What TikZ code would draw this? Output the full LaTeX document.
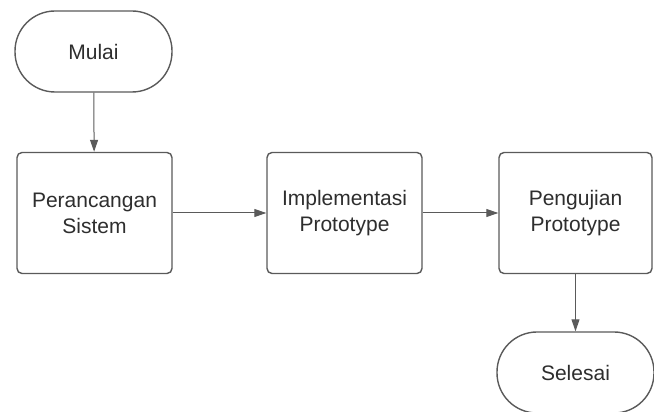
\documentclass[tikz,border=0pt]{standalone}
\usepackage{fontspec}
\setmainfont{Liberation Sans}
\usetikzlibrary{arrows.meta}
\definecolor{linec}{HTML}{5A5A5A}
\definecolor{textc}{HTML}{2E2E2E}
\tikzset{
  term/.style={draw=linec, line width=1.4pt, rounded corners=40pt, minimum width=157pt, minimum height=81pt, inner sep=0pt, font=\fontsize{21}{26}\selectfont, text=textc, fill=white},
  proc/.style={draw=linec, line width=1.4pt, rounded corners=5pt, minimum width=155pt, minimum height=121pt, inner sep=0pt, align=center, font=\fontsize{21}{26}\selectfont, text=textc, fill=white},
  conn/.style={draw=linec, line width=1pt, -{Triangle[length=12pt,width=8pt]}}
}
\begin{document}
\begin{tikzpicture}[x=1pt,y=1pt]
\useasboundingbox (0,0) rectangle (654,412);
\node[term] (mulai) at (93.5,360.5) {Mulai};
\node[proc] (p1) at (94.5,199) {Perancangan\\Sistem};
\node[proc] (p2) at (344.5,199) {Implementasi\\Prototype};
\node[proc, minimum width=153pt] (p3) at (575.5,199) {Pengujian\\Prototype};
\node[term] (selesai) at (575.5,39.5) {Selesai};
\draw[conn] (mulai) -- (p1);
\draw[conn] (p1) -- (p2);
\draw[conn] (p2) -- (p3);
\draw[conn] (p3) -- (selesai);
\end{tikzpicture}
\end{document}
